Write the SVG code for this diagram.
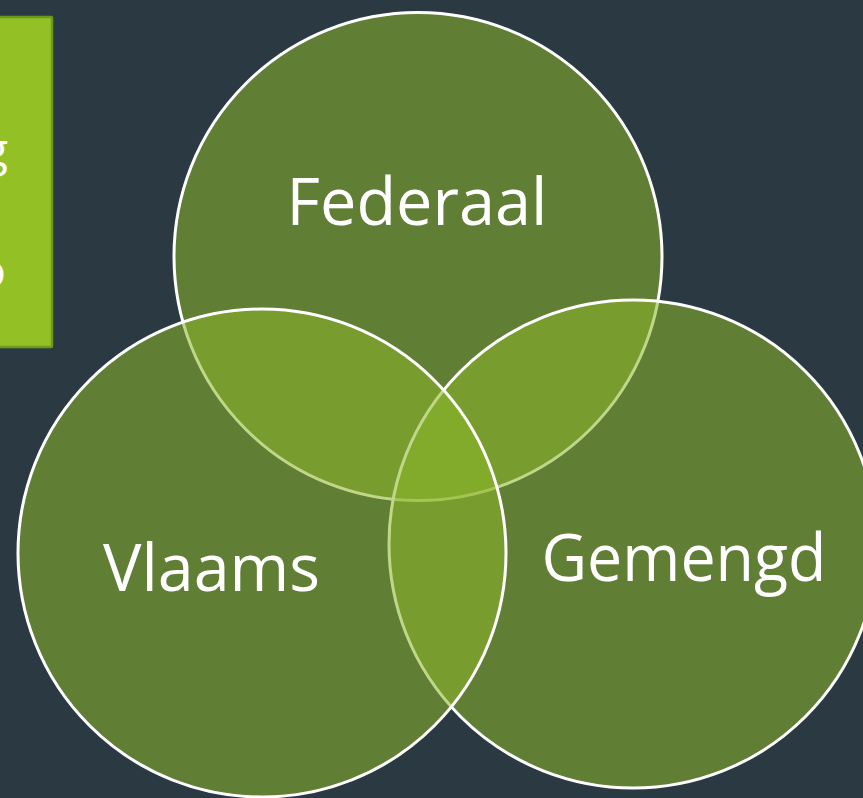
<svg xmlns="http://www.w3.org/2000/svg" width="863" height="798" viewBox="0 0 863 798">
  <style>
    .bg { fill: #2B3A42; }
    .set { fill: #8CB72A; fill-opacity: 0.55; stroke: #FFFFFF; stroke-width: 3; }
    .lbl { font-family: "Open Sans", "Noto Sans", "DejaVu Sans", sans-serif; font-size: 66px; fill: #FFFFFF; text-anchor: middle; }
    .side { fill: #93C125; stroke: #6B991E; stroke-width: 2.5; }
    .sidetxt { font-family: "Open Sans", "Noto Sans", "DejaVu Sans", sans-serif; font-size: 46px; fill: #FFFFFF; text-anchor: end; }
  </style>
  <rect class="bg" x="0" y="0" width="863" height="798"/>
  <g id="side-box">
    <rect class="side" x="-10" y="17" width="62" height="330" rx="1"/>
    <text class="sidetxt" x="8" y="166">g</text>
    <text class="sidetxt" x="6" y="287">o</text>
  </g>
  <g id="federaal">
    <circle class="set" cx="418" cy="256.5" r="244"/>
  </g>
  <g id="gemengd">
    <circle class="set" cx="633" cy="544" r="244"/>
  </g>
  <g id="vlaams">
    <circle class="set" cx="262" cy="553" r="244"/>
  </g>
  <g id="labels">
    <text class="lbl" x="417" y="225" textLength="261" lengthAdjust="spacingAndGlyphs">Federaal</text>
    <text class="lbl" x="211.5" y="591" textLength="217" lengthAdjust="spacingAndGlyphs">Vlaams</text>
    <text class="lbl" x="684" y="581" textLength="285" lengthAdjust="spacingAndGlyphs">Gemengd</text>
  </g>
  <g id="connectors"/>
</svg>
